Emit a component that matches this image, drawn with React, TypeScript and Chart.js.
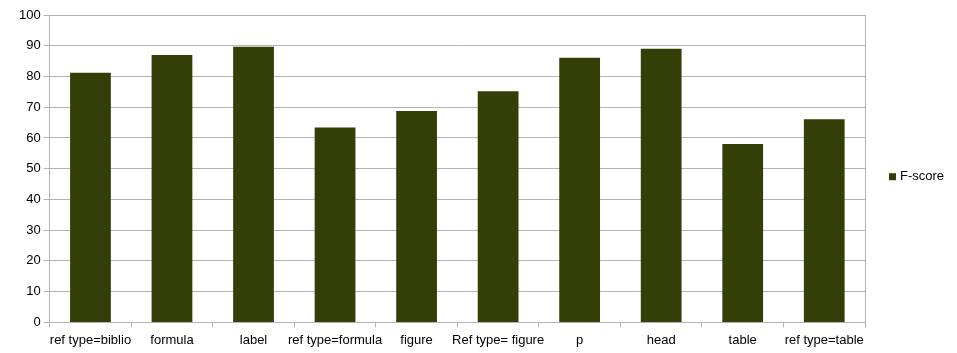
import React, { useEffect, useRef } from "react";
import { Chart, registerables } from "chart.js";

Chart.register(...registerables);

const categories = [
  "ref type=biblio",
  "formula",
  "label",
  "ref type=formula",
  "figure",
  "Ref type= figure",
  "p",
  "head",
  "table",
  "ref type=table",
];
const fScore = [81.2, 87.0, 89.7, 63.4, 68.8, 75.2, 86.1, 89.0, 58.0, 66.1];
const yTicks = [0, 10, 20, 30, 40, 50, 60, 70, 80, 90, 100];

const GRID = "#b3b3b3";
const BAR = "#333f06";
const FONT = { family: "'Liberation Sans', Arial, sans-serif", size: 13 };

const extras = {
  id: "extras",
  afterDraw(chart: any) {
    const { ctx, chartArea } = chart;
    ctx.save();
    // right border of plot
    ctx.strokeStyle = GRID;
    ctx.lineWidth = 1;
    ctx.beginPath();
    const x = Math.round(chartArea.right) + 0.5;
    ctx.moveTo(x, chartArea.top);
    ctx.lineTo(x, chartArea.bottom + 5);
    ctx.stroke();
    // legend
    const lx = chartArea.right + 24;
    const ly = (chartArea.top + chartArea.bottom) / 2 + 8;
    ctx.fillStyle = BAR;
    ctx.fillRect(lx, ly - 3.5, 7, 7);
    ctx.fillStyle = "#000";
    ctx.font = "13px 'Liberation Sans', Arial, sans-serif";
    ctx.textBaseline = "middle";
    ctx.textAlign = "left";
    ctx.fillText(chart.data.datasets[0].label, lx + 11, ly);
    ctx.restore();
  },
};

export default function App() {
  const ref = useRef<HTMLCanvasElement>(null);
  useEffect(() => {
    const chart = new Chart(ref.current!, {
      type: "bar",
      data: {
        labels: categories,
        datasets: [
          {
            label: "F-score",
            data: fScore,
            backgroundColor: BAR,
            borderWidth: 0,
            barPercentage: 0.5,
            categoryPercentage: 1,
          },
        ],
      },
      options: {
        animation: false,
        responsive: true,
        maintainAspectRatio: false,
        layout: { padding: { left: 16, top: 15, right: 92, bottom: 0 } },
        plugins: {
          tooltip: { enabled: false },
          legend: { display: false },
        },
        scales: {
          x: {
            grid: {
              display: true,
              drawOnChartArea: false,
              drawTicks: true,
              tickLength: 5,
              color: GRID,
              offset: true,
            },
            border: { display: true, color: GRID },
            ticks: {
              color: "#000",
              font: FONT,
              autoSkip: false,
              maxRotation: 0,
              minRotation: 0,
              padding: 5,
            },
          },
          y: {
            min: 0,
            max: 100,
            afterBuildTicks(axis: any) {
              axis.ticks = yTicks.map((v) => ({ value: v }));
            },
            grid: { color: GRID, tickLength: 6, drawTicks: true },
            border: { display: true, color: GRID },
            ticks: { color: "#000", font: FONT, padding: 3 },
          },
        },
      },
      plugins: [extras],
    });
    return () => chart.destroy();
  }, []);
  return (
    <div style={{ position: "fixed", left: 0, top: 0, width: 957, height: 353, background: "#fff" }}>
      <canvas ref={ref} />
    </div>
  );
}
